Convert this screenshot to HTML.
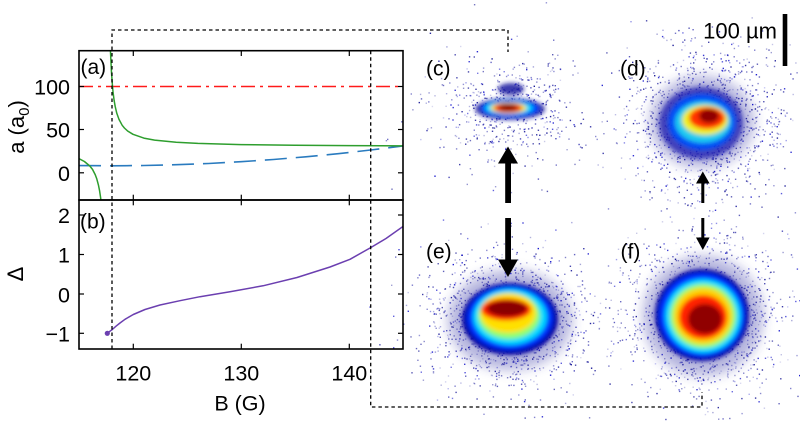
<!DOCTYPE html>
<html><head><meta charset="utf-8"><style>
html,body{margin:0;padding:0;background:#fff;width:800px;height:421px;overflow:hidden;}
svg{display:block;font-family:"Liberation Sans",Arial,sans-serif;overflow:hidden;}
</style></head><body>
<svg id="s" width="800" height="421" viewBox="0 0 800 421" xmlns="http://www.w3.org/2000/svg">
<defs>
<clipPath id="cpA"><rect x="79" y="50.7" width="324" height="149.3"/></clipPath>
<clipPath id="cpB"><rect x="79" y="200" width="324" height="149"/></clipPath>
<filter id="bl" x="-30%" y="-30%" width="160%" height="160%"><feGaussianBlur stdDeviation="2"/></filter>
<filter id="bl2" x="-50%" y="-50%" width="200%" height="200%"><feGaussianBlur stdDeviation="6"/></filter>
</defs>
<rect width="800" height="421" fill="#fff"/>

<g id="dots"></g>

<!-- heatmap c -->
<g filter="url(#bl)">
<ellipse cx="510" cy="109" rx="35" ry="11" fill="#1515a0" opacity="0.85"/>
<ellipse cx="511" cy="89" rx="13" ry="6" fill="#1a1aa0" opacity="0.85"/>
<ellipse cx="510" cy="108.5" rx="29" ry="8.5" fill="#0040ff"/>
<ellipse cx="509" cy="108" rx="24" ry="6.5" fill="#00d8ff"/>
<ellipse cx="508.5" cy="108" rx="18" ry="5.5" fill="#ffe000"/>
<ellipse cx="508" cy="108" rx="14" ry="4.6" fill="#f01000"/>
<ellipse cx="508" cy="107.5" rx="9" ry="3.6" fill="#900000"/>
</g>

<!-- heatmap d -->
<ellipse cx="702" cy="122" rx="52" ry="46" fill="#2a2aa0" opacity="0.35" filter="url(#bl2)"/>
<g filter="url(#bl)">
<ellipse cx="701" cy="123" rx="42" ry="36" fill="#1a1ab0" opacity="0.75"/>
<ellipse cx="702" cy="122" rx="34" ry="28" fill="#0050ff" opacity="0.85"/>
<ellipse cx="703" cy="122" rx="28" ry="21" fill="#20d8f0" opacity="0.9"/>
<ellipse cx="705" cy="120" rx="23" ry="15" fill="#f0f020"/>
<ellipse cx="707" cy="118" rx="18" ry="11" fill="#ff3000"/>
<ellipse cx="709" cy="116" rx="10" ry="7" fill="#900000"/>
</g>

<!-- heatmap e -->
<ellipse cx="510" cy="320" rx="62" ry="50" fill="#2a2aa0" opacity="0.35" filter="url(#bl2)"/>
<g filter="url(#bl)">
<ellipse cx="510" cy="319" rx="48" ry="36" fill="#0000a0"/>
<ellipse cx="510" cy="318" rx="43" ry="32" fill="#0030ff"/>
<ellipse cx="510" cy="317" rx="37" ry="28" fill="#00d8ff"/>
<ellipse cx="509" cy="316" rx="31" ry="23" fill="#90ff70"/>
<ellipse cx="508" cy="313" rx="28" ry="20" fill="#ffe000"/>
<ellipse cx="506" cy="309.5" rx="25" ry="11" fill="#ff2000"/>
<ellipse cx="507" cy="308.5" rx="20" ry="8" fill="#8a0000"/>
</g>

<!-- heatmap f -->
<circle cx="703" cy="316" r="60" fill="#2a2aa0" opacity="0.35" filter="url(#bl2)"/>
<g filter="url(#bl)">
<ellipse cx="702" cy="315" rx="47" ry="46" fill="#0000a0"/>
<ellipse cx="702" cy="315" rx="43" ry="42" fill="#0030ff"/>
<ellipse cx="703" cy="316" rx="38" ry="37" fill="#00d8ff"/>
<ellipse cx="703" cy="316" rx="33" ry="32" fill="#a0ff60"/>
<ellipse cx="703" cy="316" rx="29" ry="28" fill="#ffd000"/>
<ellipse cx="703" cy="317" rx="24" ry="22" fill="#ff2000"/>
<ellipse cx="705" cy="319" rx="17" ry="15" fill="#900000"/>
</g>

<!-- arrows -->
<g fill="#000">
<rect x="505.2" y="162" width="5.8" height="41"/>
<polygon points="498,163.5 518,163.5 508,146.5"/>
<rect x="505.2" y="218" width="5.8" height="43"/>
<polygon points="498,259.5 518,259.5 508,277"/>
<rect x="701.3" y="182" width="3" height="21"/>
<polygon points="696,183.5 709.6,183.5 702.8,171.5"/>
<rect x="701.3" y="218" width="3" height="21"/>
<polygon points="696,237.5 709.6,237.5 702.8,250"/>
</g>

<!-- scale bar -->
<rect x="782.7" y="14" width="4.6" height="52" fill="#000"/>
<text x="777" y="38.5" font-size="22" text-anchor="end" fill="#000">100 µm</text>

<!-- panel labels -->
<g font-size="21" fill="#000">
<text x="426" y="75.5">(c)</text>
<text x="620" y="75.5">(d)</text>
<text x="426" y="258.5">(e)</text>
<text x="620.5" y="258.5">(f)</text>
<text x="80.5" y="74">(a)</text>
<text x="80" y="228.5">(b)</text>
</g>

<!-- top panel curves -->
<g clip-path="url(#cpA)" fill="none" stroke-linejoin="round">
<line x1="79" y1="86.5" x2="403" y2="86.5" stroke="#ff1a1a" stroke-width="1.4" stroke-dasharray="14 5 3 5"/>
<polyline stroke="#2a7bbf" stroke-width="1.6" stroke-dasharray="22 9" points="79,165.6 111.4,165.8 143.8,165.5 176.2,164.7 208.6,163.5 241,161.7 273.4,159.5 305.8,156.8 338.2,153.7 370.6,150 403,145.9"/>
<polyline stroke="#2e9e2e" stroke-width="1.5" points="110.3,45.8 110.5,52.1 110.9,60.3 111.4,71.1 112,79.5 112.5,86.3 113,91.8 114.1,100.3 115.2,106.5 116.8,113.3 119,119.4 122.2,125.3 124.4,128 127.6,131 133,134.3 143.8,138.1 154.6,140.1 176.2,142.2 197.8,143.4 241,144.6 295,145.3 349,145.6 403,145.9"/>
<polyline stroke="#2e9e2e" stroke-width="1.5" points="79,158.7 84.4,161.5 89.8,166 92.5,169.4 95.2,174.6 96.8,178.9 98.4,184.9 99.5,190.3 100.6,197.5 101.3,204.2"/>
</g>

<!-- bottom panel curve -->
<g clip-path="url(#cpB)" fill="none" stroke-linejoin="round">
<polyline stroke="#6b3fb0" stroke-width="1.5" points="107.3,333.3 110,331.2 112.3,329.5 116,326.2 120,323 125,319.3 133.3,314.5 145,309.5 160,305 180,300.7 200,296.7 230,291.7 263,285.8 297,277.5 330,267 350,259.3 370.7,247.6 386,238.5 403,226.5"/>
</g>
<circle cx="107.3" cy="333.3" r="2.6" fill="#6b3fb0"/>

<!-- dashed connectors -->
<g fill="none" stroke="#000" stroke-width="1.3" stroke-dasharray="3.5 3">
<polyline points="112,349 112,30 508,30 508,52"/>
<polyline points="370.7,50.7 370.7,407 702,407 702,392"/>
</g>

<!-- frames -->
<g fill="none" stroke="#000" stroke-width="1.6">
<rect x="79" y="50.7" width="324" height="149.3"/>
<rect x="79" y="200" width="324" height="149"/>
</g>
<!-- ticks -->
<g stroke="#000" stroke-width="1.2">
<line x1="133.3" y1="50.7" x2="133.3" y2="56"/><line x1="241.3" y1="50.7" x2="241.3" y2="56"/><line x1="349.3" y1="50.7" x2="349.3" y2="56"/>
<line x1="133.3" y1="200" x2="133.3" y2="194.7"/><line x1="241.3" y1="200" x2="241.3" y2="194.7"/><line x1="349.3" y1="200" x2="349.3" y2="194.7"/>
<line x1="133.3" y1="200" x2="133.3" y2="205.3"/><line x1="241.3" y1="200" x2="241.3" y2="205.3"/><line x1="349.3" y1="200" x2="349.3" y2="205.3"/>
<line x1="133.3" y1="349" x2="133.3" y2="343.7"/><line x1="241.3" y1="349" x2="241.3" y2="343.7"/><line x1="349.3" y1="349" x2="349.3" y2="343.7"/>
<line x1="79" y1="86.5" x2="84" y2="86.5"/><line x1="79" y1="129.5" x2="84" y2="129.5"/><line x1="79" y1="172.8" x2="84" y2="172.8"/>
<line x1="403" y1="86.5" x2="398" y2="86.5"/><line x1="403" y1="129.5" x2="398" y2="129.5"/><line x1="403" y1="172.8" x2="398" y2="172.8"/>
<line x1="79" y1="215" x2="84" y2="215"/><line x1="79" y1="254.5" x2="84" y2="254.5"/><line x1="79" y1="294" x2="84" y2="294"/><line x1="79" y1="333.3" x2="84" y2="333.3"/>
<line x1="403" y1="215" x2="398" y2="215"/><line x1="403" y1="254.5" x2="398" y2="254.5"/><line x1="403" y1="294" x2="398" y2="294"/><line x1="403" y1="333.3" x2="398" y2="333.3"/>
</g>

<!-- tick labels -->
<g font-size="21.5" fill="#000" text-anchor="end">
<text x="70" y="94.5">100</text>
<text x="70" y="137.5">50</text>
<text x="70" y="181">0</text>
<text x="70" y="223">2</text>
<text x="70" y="262.5">1</text>
<text x="70" y="302.5">0</text>
<text x="70" y="341.5">−1</text>
</g>
<g font-size="21.5" fill="#000" text-anchor="middle">
<text x="133.3" y="380.5">120</text>
<text x="241.3" y="380.5">130</text>
<text x="349.3" y="380.5">140</text>
<text x="240" y="410.5">B (G)</text>
</g>
<g font-size="22" fill="#000" text-anchor="middle">
<text transform="translate(24,127) rotate(-90)">a (a<tspan font-size="15" dy="5">0</tspan><tspan dy="-5">)</tspan></text>
<text transform="translate(23,274) rotate(-90)">Δ</text>
</g>
</svg>
<script>
(function(){
var s=123456789;
function r(){s^=s<<13;s^=s>>>17;s^=s<<5;return ((s>>>0)%100000)/100000;}
function g(){var u=r()||1e-6,v=r();return Math.sqrt(-2*Math.log(u))*Math.cos(6.2831853*v);}
var ns="http://www.w3.org/2000/svg",grp=document.getElementById("dots");
var blobs=[[507,110,42,34,380],[509,104,24,14,220],[703,120,40,38,1300],[508,320,40,34,1500],[703,316,40,40,1500]];
var cols=["#00008b","#1c1c9c","#3535b0","#0000c8","#5050b8"];
for(var b=0;b<blobs.length;b++){var B=blobs[b];
for(var i=0;i<B[4];i++){var x=B[0]+g()*B[2],y=B[1]+g()*B[3];
if(x<0||x>799||y<0||y>420)continue;
var e=document.createElementNS(ns,"rect");e.setAttribute("x",x.toFixed(1));e.setAttribute("y",y.toFixed(1));
e.setAttribute("width","1.4");e.setAttribute("height","1.4");e.setAttribute("fill",cols[Math.floor(r()*cols.length)]);
e.setAttribute("opacity",(0.2+0.7*r()).toFixed(2));grp.appendChild(e);}}
})();
</script>
</body></html>
